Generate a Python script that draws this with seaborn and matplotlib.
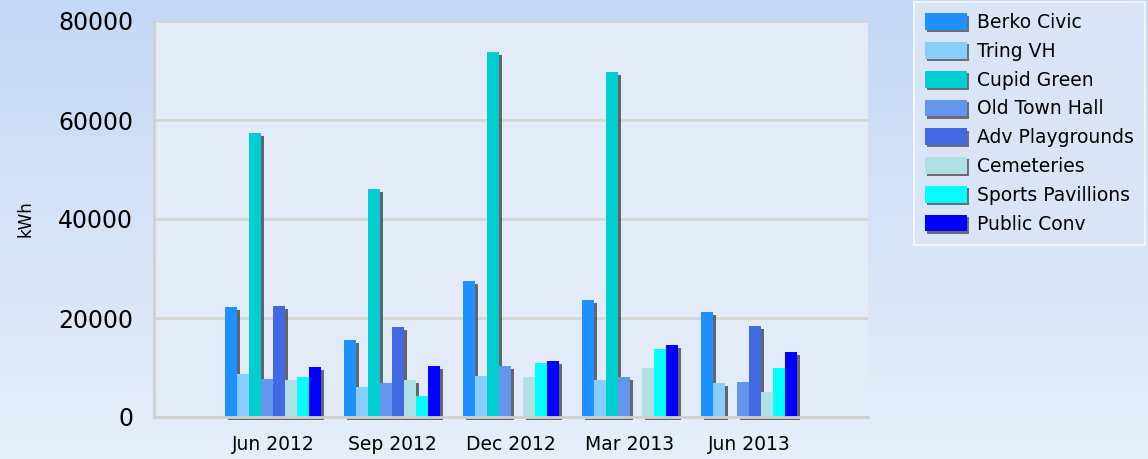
import numpy as np
import pandas as pd
import matplotlib
matplotlib.use("Agg")
import matplotlib.pyplot as plt
import matplotlib.patheffects as pe
from matplotlib.patches import Patch
from matplotlib.colors import LinearSegmentedColormap
import seaborn as sns

# ---- data ----
quarters = ["Jun 2012", "Sep 2012", "Dec 2012", "Mar 2013", "Jun 2013"]
sites = ["Berko Civic", "Tring VH", "Cupid Green", "Old Town Hall",
         "Adv Playgrounds", "Cemeteries", "Sports Pavillions", "Public Conv"]
berko_civic = [22200, 15500, 27400, 23600, 21300]
tring_vh = [8600, 6000, 8300, 7500, 6900]
cupid_green = [57300, 46100, 73800, 69700, 0]
old_town_hall = [7700, 6800, 10300, 8000, 7100]
adv_playgrounds = [22500, 18100, 0, 0, 18400]
cemeteries = [7500, 7500, 8000, 9800, 5100]
sports_pavillions = [8100, 4300, 10900, 13700, 9800]
public_conv = [10200, 10400, 11400, 14500, 13100]
colors = ["#1E90FF", "#87CEFA", "#00CED1", "#6495ED",
          "#4169E1", "#B0E0E6", "#00FFFF", "#0000FF"]

series = [berko_civic, tring_vh, cupid_green, old_town_hall,
          adv_playgrounds, cemeteries, sports_pavillions, public_conv]
rows = []
for site, vals in zip(sites, series):
    for q, v in zip(quarters, vals):
        rows.append({"quarter": q, "site": site, "kWh": v})
df = pd.DataFrame(rows)

sns.set_style("white")
plt.rcParams["font.family"] = ["DejaVu Sans"]
plt.rcParams["text.color"] = "black"
plt.rcParams["axes.labelcolor"] = "black"
plt.rcParams["xtick.labelcolor"] = "black"
plt.rcParams["ytick.labelcolor"] = "black"

fig = plt.figure(figsize=(11.48, 4.59), dpi=100)

# background gradient
bg = fig.add_axes([0, 0, 1, 1], zorder=-10)
grad = np.linspace(0, 1, 256).reshape(-1, 1)
cmap = LinearSegmentedColormap.from_list("bg", ["#C4D9F5", "#E6EEFA"])
bg.imshow(grad, aspect="auto", cmap=cmap, extent=[0, 1, 0, 1], origin="upper")
bg.axis("off")

ax = fig.add_axes([154 / 1148, 1 - 417 / 459, 714 / 1148, 396 / 459])
ax.set_facecolor("#E4EBF8")

sns.barplot(data=df, x="quarter", y="kWh", hue="site", hue_order=sites,
            order=quarters, palette=colors, saturation=1, width=0.8,
            legend=False, ax=ax, errorbar=None)

shadow = [pe.SimplePatchShadow(offset=(2.2, -2.2), shadow_rgbFace="#3a3a3a", alpha=0.75),
          pe.Normal()]
for p in ax.patches:
    p.set_linewidth(0)
    p.set_path_effects(shadow)
    p.set_clip_on(False)

ax.set_xlim(-1, 5)
ax.set_ylim(0, 80000)
ax.set_yticks([0, 20000, 40000, 60000, 80000])
ax.set_yticklabels(["0", "20000", "40000", "60000", "80000"], fontsize=17)
ax.set_xticks(range(-1, 6))
ax.set_xticklabels([""] + quarters + [""], fontsize=13.5)
ax.yaxis.grid(True, color="#D6D6D6", lw=2)
ax.set_axisbelow(True)
for s in ["top", "right"]:
    ax.spines[s].set_visible(False)
for s in ["left", "bottom"]:
    ax.spines[s].set_color("#D0D0D0")
    ax.spines[s].set_linewidth(2)
ax.tick_params(axis="y", length=9, width=1.5, color="#D6D6D6", pad=6)
ax.tick_params(axis="x", length=4, width=1.5, color="#D0D0D0", pad=9)
ax.set_xlabel("")
ax.set_ylabel("kWh", fontsize=12)
ax.yaxis.set_label_coords(-0.168, 0.5)

handles = [Patch(facecolor=c, edgecolor="none", label=s,
                 path_effects=[pe.SimplePatchShadow(offset=(1.5, -1.5), shadow_rgbFace="#3a3a3a", alpha=0.7),
                               pe.Normal()])
           for c, s in zip(colors, sites)]
leg = fig.legend(handles=handles, loc="upper left",
                 bbox_to_anchor=(914 / 1148, 1 - 2 / 459),
                 fontsize=13.5, frameon=True, fancybox=False,
                 handlelength=2.2, handleheight=1.0, handletextpad=0.55,
                 labelspacing=0.52, borderpad=0.6, borderaxespad=0)
frame = leg.get_frame()
frame.set_facecolor("#D9E5F7")
frame.set_edgecolor("#F0F4FB")
frame.set_linewidth(1.5)
frame.set_alpha(1)

fig.savefig("out.png", dpi=100)
